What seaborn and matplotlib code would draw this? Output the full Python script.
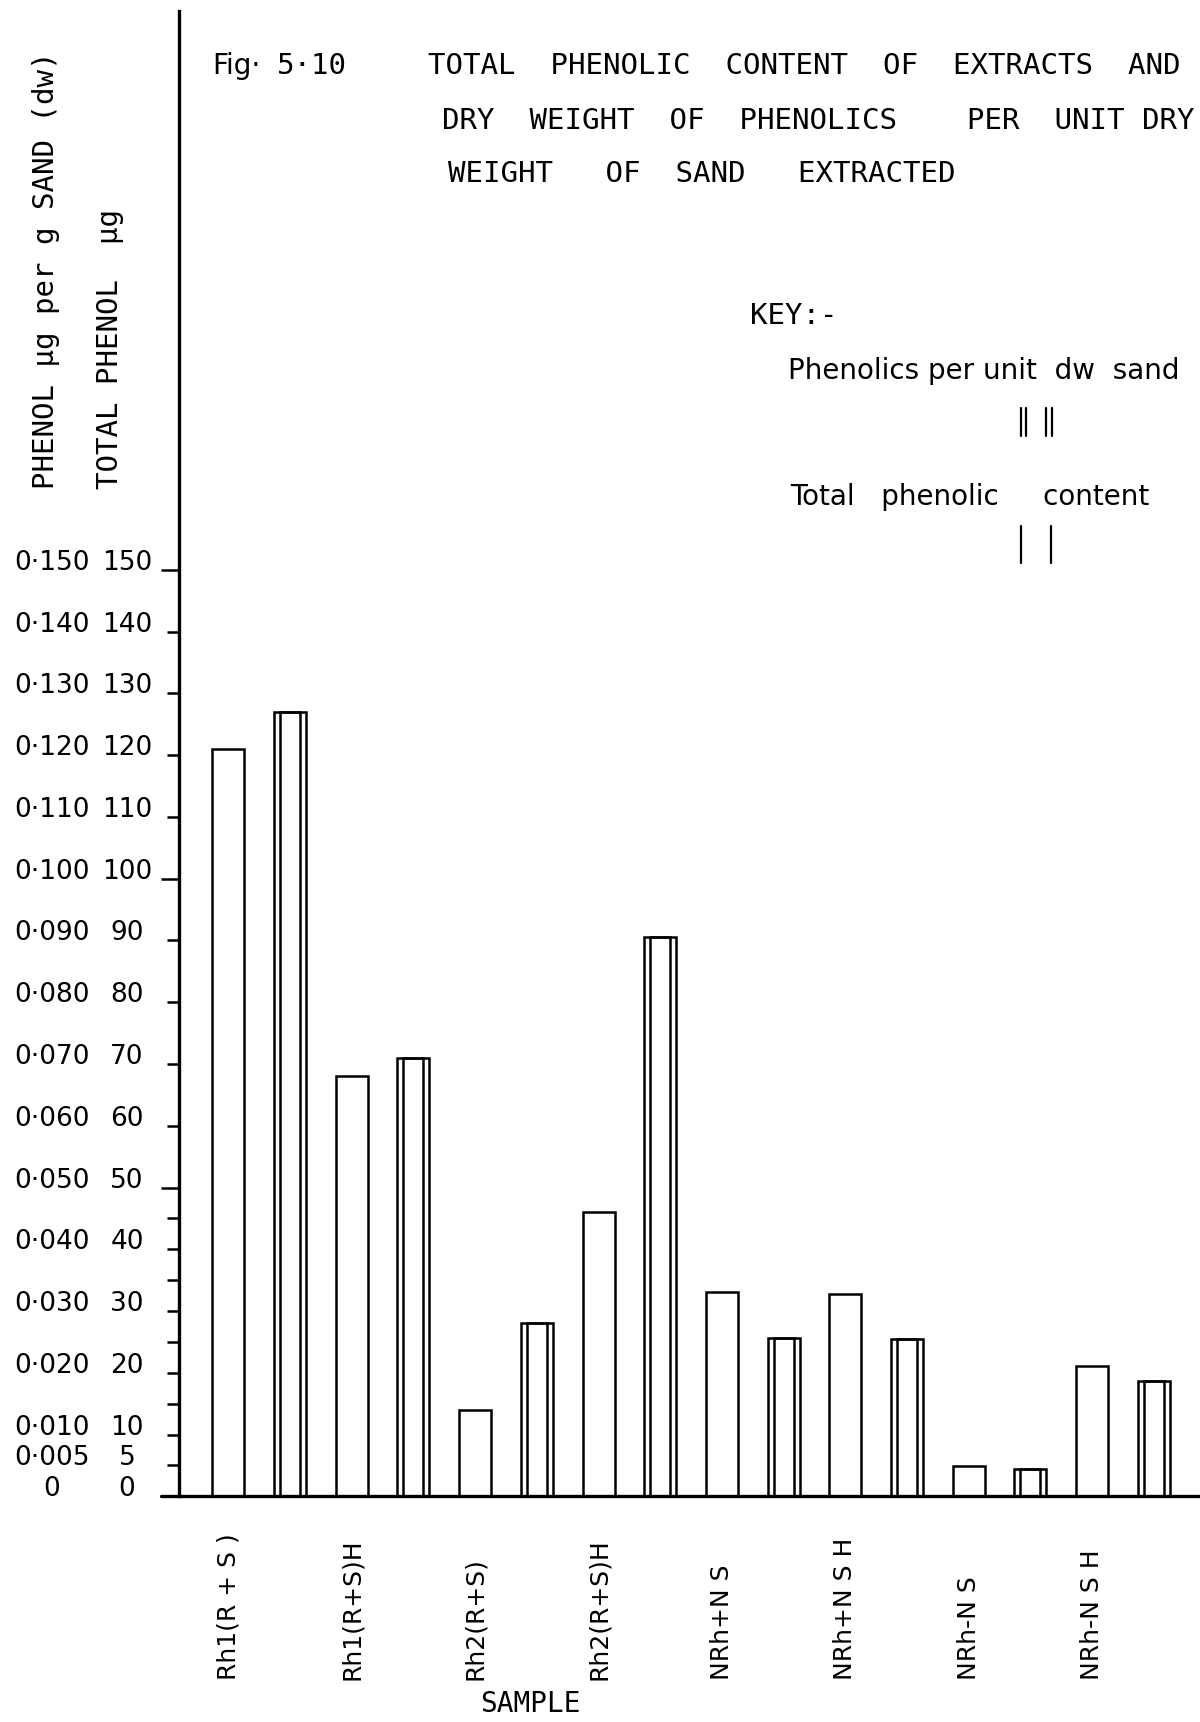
import numpy as np
import pandas as pd
import matplotlib
matplotlib.use("Agg")
import matplotlib.pyplot as plt
from matplotlib.lines import Line2D
from matplotlib.transforms import blended_transform_factory
import seaborn as sns

# ---- data -------------------------------------------------------------
samples = ["Rh1(R + S )", "Rh1(R+S)H", "Rh2(R+S)", "Rh2(R+S)H",
           "NRh+N S", "NRh+N S H", "NRh-N S", "NRh-N S H"]
# total phenolic content of each extract (ug)
total_phenol_ug = [121, 68, 14, 46, 33, 32.8, 4.9, 21.1]
# phenolics per unit dry weight of sand (ug per g sand)
phenol_per_g_sand = [0.127, 0.071, 0.028, 0.0906, 0.0257, 0.0255, 0.0044, 0.0186]

# the two scales share one axis: 1 ug total <-> 0.001 ug/g sand
per_g_to_total = 1000

total_tick_values = [0, 5, 10, 20, 30, 40, 50, 60, 70, 80, 90,
                     100, 110, 120, 130, 140, 150]
total_tick_labels = ["0", "5", "10", "20", "30", "40", "50", "60", "70", "80",
                     "90", "100", "110", "120", "130", "140", "150"]
per_g_tick_labels = ["0", "0·005", "0·010", "0·020", "0·030", "0·040", "0·050",
                     "0·060", "0·070", "0·080", "0·090", "0·100", "0·110",
                     "0·120", "0·130", "0·140", "0·150"]
long_ticks = [50, 100, 150]
short_ticks = [5, 10, 15, 20, 25, 30, 35, 40, 45, 60, 70, 80, 90,
               110, 120, 130, 140]

df = pd.DataFrame({
    "sample": samples * 2,
    "measure": ["total"] * len(samples) + ["per_g"] * len(samples),
    "value": total_phenol_ug + [v * per_g_to_total for v in phenol_per_g_sand],
})

# ---- style ------------------------------------------------------------
sns.set_theme(style="white")
plt.rcParams["font.family"] = ["DejaVu Sans"]
plt.rcParams["text.color"] = "black"
plt.rcParams["axes.edgecolor"] = "black"
plt.rcParams["ytick.color"] = "black"
MONO = ["DejaVu Sans Mono", "DejaVu Sans"]
SANS = ["DejaVu Sans"]

W, H = 1200, 1722


def fx(px):
    return px / W


def fy(py):
    return 1 - py / H


fig = plt.figure(figsize=(12, 17.22), dpi=100)
fig.patch.set_facecolor("white")

ax_left, ax_zero, ax_top = 179, 1496.3, 11
ax = fig.add_axes([fx(ax_left), fy(ax_zero), 1 - fx(ax_left), (ax_zero - ax_top) / H])
ax.set_facecolor("white")

palette = {"total": "black", "per_g": "black"}
bar_lw = 1.8

# outer outline of every bar
sns.barplot(data=df, x="sample", y="value", hue="measure",
            order=samples, hue_order=["total", "per_g"], palette=palette,
            dodge=True, width=1.0, gap=0.48, fill=False, linewidth=bar_lw,
            errorbar=None, legend=False, ax=ax)
total_bars = list(ax.containers[0])

# inner outline: per-g-sand bars are drawn with a double line
sns.barplot(data=df[df["measure"] == "per_g"], x="sample", y="value", hue="measure",
            order=samples, hue_order=["total", "per_g"], palette=palette,
            dodge=True, width=1.0, gap=0.676, fill=False, linewidth=bar_lw,
            errorbar=None, legend=False, ax=ax)

ax.set_xlim(-0.65, 7.624)
ax.set_ylim(0, 240.5)
ax.set_xticks([])
ax.set_xlabel("")
ax.set_ylabel("")

for side in ["top", "right", "bottom"]:
    ax.spines[side].set_visible(False)
ax.spines["left"].set_color("black")
ax.spines["left"].set_linewidth(2.4)

ax.set_yticks(long_ticks)
ax.set_yticks(short_ticks, minor=True)
ax.tick_params(axis="y", which="major", direction="out", length=13,
               width=1.8, color="black", left=True, labelleft=False)
ax.tick_params(axis="y", which="minor", direction="out", length=8.3,
               width=1.8, color="black", left=True, labelleft=False)

# x axis line, running a little past the y axis
fig_x_data_y = blended_transform_factory(fig.transFigure, ax.transData)
ax.add_line(Line2D([fx(161), 1.0], [0, 0], transform=fig_x_data_y,
                   color="black", lw=2.4, clip_on=False))

# two columns of y tick labels
for v, lab_t, lab_g in zip(total_tick_values, total_tick_labels, per_g_tick_labels):
    ax.text(fx(127), v, lab_t, transform=fig_x_data_y, ha="center",
            va="baseline", fontsize=19, family=SANS, color="black", clip_on=False)
    ax.text(fx(52), v, lab_g, transform=fig_x_data_y, ha="center",
            va="baseline", fontsize=19, family=SANS, color="black", clip_on=False)

# sample names, under the first bar of each pair
data_x_fig_y = blended_transform_factory(ax.transData, fig.transFigure)
for bar, name in zip(total_bars, samples):
    cx = bar.get_x() + bar.get_width() / 2
    ax.text(cx, fy(1680), name, transform=data_x_fig_y, rotation=90,
            ha="center", va="bottom", fontsize=18, family=SANS, color="black",
            clip_on=False)

fig.text(fx(530), fy(1704), "SAMPLE", ha="center", va="center",
         fontsize=20, family=MONO)

# y axis titles
fig.text(fx(46), fy(489), "PHENOL μg per g SAND (dw)", rotation=90,
         ha="center", va="bottom", fontsize=21, family=MONO)
fig.text(fx(110), fy(489), "TOTAL PHENOL  μg", rotation=90,
         ha="center", va="bottom", fontsize=21, family=MONO)

# figure title
fig.text(fx(212), fy(66), "Fig·", ha="left", va="center", fontsize=20, family=SANS)
fig.text(fx(277), fy(66), "5·10", ha="left", va="center", fontsize=21, family=MONO)
fig.text(fx(428), fy(66), "TOTAL  PHENOLIC  CONTENT  OF  EXTRACTS  AND",
         ha="left", va="center", fontsize=21, family=MONO)
fig.text(fx(442), fy(121), "DRY  WEIGHT  OF  PHENOLICS    PER  UNIT DRY",
         ha="left", va="center", fontsize=21, family=MONO)
fig.text(fx(448), fy(174), "WEIGHT   OF  SAND   EXTRACTED",
         ha="left", va="center", fontsize=21, family=MONO)

# key
fig.text(fx(750), fy(316), "KEY:-", ha="left", va="center", fontsize=21, family=MONO)
fig.text(fx(788), fy(371), "Phenolics per unit  dw  sand", ha="left",
         va="center", fontsize=20, family=SANS)
fig.text(fx(790), fy(497), "Total   phenolic     content", ha="left",
         va="center", fontsize=20, family=SANS)

for x0 in [1021, 1026, 1046, 1052]:
    fig.add_artist(Line2D([fx(x0), fx(x0)], [fy(436), fy(408)],
                          transform=fig.transFigure, color="black", lw=1.6))
for x0 in [1021, 1051]:
    fig.add_artist(Line2D([fx(x0), fx(x0)], [fy(563), fy(526)],
                          transform=fig.transFigure, color="black", lw=1.6))

fig.savefig("out.png", dpi=100, facecolor="white")
